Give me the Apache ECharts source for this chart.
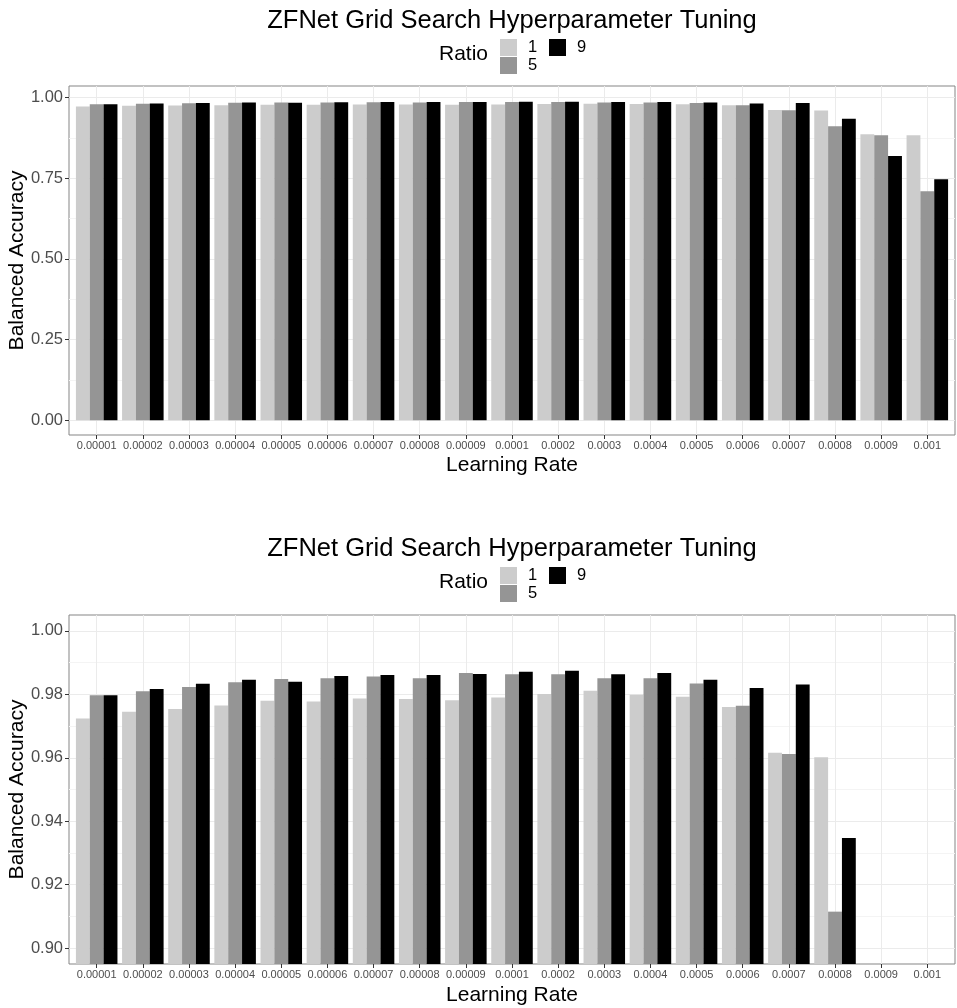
<!DOCTYPE html>
<html><head><meta charset="utf-8">
<script src="https://cdn.jsdelivr.net/npm/echarts@6/dist/echarts.min.js"></script>
<style>html,body{margin:0;padding:0;background:#fff}#c{width:957px;height:1008px}</style>
</head><body><div id="c"></div>
<script>
const categories = ['0.00001','0.00002','0.00003','0.00004','0.00005','0.00006','0.00007','0.00008','0.00009','0.0001','0.0002','0.0003','0.0004','0.0005','0.0006','0.0007','0.0008','0.0009','0.001'];
const ratioNames = ['1','5','9'];
const ratio1 = [0.9724,0.9745,0.9754,0.9765,0.9780,0.9777,0.9787,0.9785,0.9781,0.9790,0.9801,0.9811,0.9799,0.9792,0.9760,0.9616,0.9602,0.8863,0.8832];
const ratio5 = [0.9797,0.9810,0.9823,0.9838,0.9848,0.9851,0.9856,0.9851,0.9867,0.9863,0.9863,0.9851,0.9851,0.9834,0.9764,0.9612,0.9115,0.8832,0.7097];
const ratio9 = [0.9797,0.9817,0.9833,0.9846,0.9840,0.9858,0.9861,0.9861,0.9864,0.9871,0.9874,0.9863,0.9867,0.9846,0.9820,0.9831,0.9347,0.8191,0.7468];
const topTicks = [0, 0.25, 0.5, 0.75, 1.0];
const topMinor = [0.125, 0.375, 0.625, 0.875];
const bottomTicks = [0.90, 0.92, 0.94, 0.96, 0.98, 1.00];
const bottomMinor = [0.91, 0.93, 0.95, 0.97, 0.99];
const titleText = 'ZFNet Grid Search Hyperparameter Tuning';
const legendTitle = 'Ratio';
const xName = 'Learning Rate';
const yName = 'Balanced Accuracy';

const FONT = 'Liberation Sans, Arial, Helvetica, sans-serif';
const colors = ['#CCCCCC', '#959595', '#000000'];
const values = [ratio1, ratio5, ratio9];
// discrete positions 1..n (ggplot-like), axis padded by 0.6 on each side
const catPos = categories.map((c, i) => i + 1);

const panels = [
  {top: 86, height: 349, min: -0.046, max: 1.036, ticks: topTicks, minor: topMinor, dy: 0, xGap: 20},
  {top: 615, height: 349, min: 0.895, max: 1.005, ticks: bottomTicks, minor: bottomMinor, dy: 528, xGap: 21}
];

const option = {
  animation: false,
  backgroundColor: '#ffffff',
  title: [], legend: [], grid: [], xAxis: [], yAxis: [], series: []
};

panels.forEach((p, g) => {
  option.title.push({
    text: titleText, left: 512, top: 20.5 + p.dy, textAlign: 'center', textVerticalAlign: 'middle', padding: 0,
    textStyle: {fontSize: 25.5, fontWeight: 'normal', color: '#000', fontFamily: FONT}
  });
  option.title.push({
    text: legendTitle, left: 439, top: 54.5 + p.dy, textVerticalAlign: 'middle', padding: 0,
    textStyle: {fontSize: 21, fontWeight: 'normal', color: '#000', fontFamily: FONT}
  });
  const legBase = {
    orient: 'vertical', itemWidth: 17, itemHeight: 17, itemGap: 1, padding: 0, icon: 'rect',
    textStyle: {fontSize: 16.5, color: '#000', fontFamily: FONT, padding: [0, 0, 0, 6]}
  };
  option.legend.push(Object.assign({}, legBase, {data: ['1', '5'], left: 500, top: 39 + p.dy}));
  option.legend.push(Object.assign({}, legBase, {data: ['9'], left: 549, top: 39 + p.dy}));

  option.grid.push({
    left: 69, top: p.top, width: 886, height: p.height, show: true,
    borderColor: '#858585', borderWidth: 1, backgroundColor: 'transparent',
    containLabel: false, outerBoundsMode: 'none'
  });

  const xIdx = option.xAxis.length;
  option.xAxis.push({
    type: 'value', gridIndex: g, min: 0.4, max: categories.length + 0.6, position: 'bottom',
    axisLine: {show: false, onZero: false},
    axisTick: {show: true, length: 4, lineStyle: {color: '#333333'}, customValues: catPos},
    axisLabel: {customValues: catPos, formatter: v => categories[Math.round(v) - 1],
                fontSize: 11, color: '#4D4D4D', margin: 5, fontFamily: FONT, hideOverlap: false},
    splitLine: {show: true, lineStyle: {color: '#EBEBEB', width: 1}},
    name: xName, nameLocation: 'middle', nameGap: p.xGap, nameMoveOverlap: false,
    nameTextStyle: {fontSize: 21, color: '#000', fontFamily: FONT}
  });

  const yIdx = option.yAxis.length;
  option.yAxis.push({
    type: 'value', gridIndex: g, min: p.min, max: p.max,
    axisLine: {show: false, onZero: false},
    axisTick: {show: true, length: 4, lineStyle: {color: '#333333'}, customValues: p.ticks},
    axisLabel: {customValues: p.ticks, formatter: v => v.toFixed(2), fontSize: 16.5, color: '#4D4D4D', margin: 6, fontFamily: FONT},
    splitLine: {show: true, lineStyle: {color: '#EBEBEB', width: 1}},
    name: yName, nameLocation: 'middle', nameGap: 41, nameMoveOverlap: false,
    nameTextStyle: {fontSize: 21, color: '#000', fontFamily: FONT}
  });
  option.yAxis.push({
    type: 'value', gridIndex: g, min: p.min, max: p.max,
    axisLine: {show: false, onZero: false},
    axisTick: {show: false, customValues: p.minor},
    axisLabel: {show: false},
    splitLine: {show: true, lineStyle: {color: '#F4F4F4', width: 1}}
  });

  ratioNames.forEach((name, k) => {
    option.series.push({
      type: 'bar', name: name, xAxisIndex: xIdx, yAxisIndex: yIdx,
      data: catPos.map((x, i) => [x, values[k][i]]),
      itemStyle: {color: colors[k]},
      barGap: '0%', barCategoryGap: '10%', clip: true
    });
  });
});

const chart = echarts.init(document.getElementById('c'), null, {renderer: 'canvas'});
chart.setOption(option);
</script>
</body></html>
